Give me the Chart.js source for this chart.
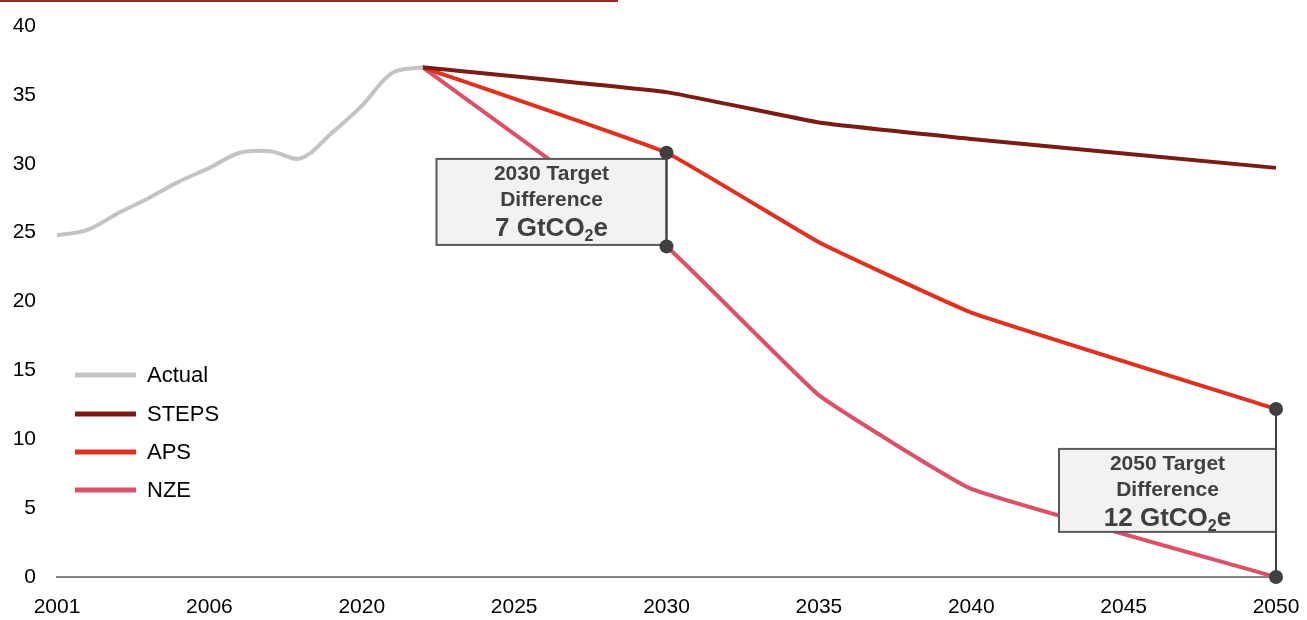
<!DOCTYPE html>
<html>
<head>
<meta charset="utf-8">
<script src="https://cdn.jsdelivr.net/npm/chart.js@4.4.1/dist/chart.umd.min.js"></script>
<style>
  html, body { margin: 0; padding: 0; background: #fff; }
  #wrap { position: relative; width: 1307px; height: 620px; }
  #topbar { position: absolute; left: 0; top: 0; width: 618px; height: 2px; background: #9a2a20; }
</style>
</head>
<body>
<div id="wrap">
  <canvas id="chart" width="1307" height="620"></canvas>
  <div id="topbar"></div>
</div>
<script>
// Emissions pathways (GtCO2e)

const years = ['2001','2002','2003','2004','2005','2006','2007','2008','2009','2010',
  '2020','2021','2022','2023','2024','2025','2026','2027','2028','2029',
  '2030','2031','2032','2033','2034','2035','2036','2037','2038','2039',
  '2040','2041','2042','2043','2044','2045','2046','2047','2048','2049','2050'];

const actualYears = ['2001','2002','2003','2004','2005','2006','2007','2008','2009','2010','2020','2021','2022'];
const actual = [24.8, 25.2, 26.4, 27.5, 28.7, 29.7, 30.8, 30.9, 30.4, 32.2, 34.2, 36.6, 37.0];

const projYears = ['2022','2030','2035','2040','2050'];
const steps = [37.0, 35.2, 33.0, 31.8, 29.7];
const aps = [37.0, 30.8, 24.3, 19.2, 12.2];
const nze = [37.0, 24.0, 13.2, 6.4, 0];

const FONT = '"Liberation Sans", Arial, sans-serif';

// put values on the full year axis, empty years stay null
function onAxis(ys, vals) {
  return years.map(y => {
    const i = ys.indexOf(y);
    return i < 0 ? null : vals[i];
  });
}

const series = [
  { label: 'Actual', data: onAxis(actualYears, actual), color: '#c3c3c3', tension: 0.35 },
  { label: 'STEPS', data: onAxis(projYears, steps), color: '#7b1b14', tension: 0.1 },
  { label: 'APS', data: onAxis(projYears, aps), color: '#e0301e', tension: 0.1 },
  { label: 'NZE', data: onAxis(projYears, nze), color: '#dc5068', tension: 0.1 }
];

const targets = [
  { year: '2030', hi: 'APS', lo: 'NZE', title: '2030 Target', value: '7 GtCO', width: 230, top: 30.35, height: 86 },
  { year: '2050', hi: 'APS', lo: 'NZE', title: '2050 Target', value: '12 GtCO', width: 217, top: 9.3, height: 83 }
];

const legendInside = {
  id: 'legendInside',
  afterDraw(chart) {
    const ctx = chart.ctx;
    const rows = [375, 414, 452, 490];
    ctx.save();
    chart.data.datasets.forEach((ds, i) => {
      ctx.strokeStyle = ds.borderColor;
      ctx.lineWidth = 5;
      ctx.beginPath();
      ctx.moveTo(75, rows[i]);
      ctx.lineTo(136, rows[i]);
      ctx.stroke();
      ctx.fillStyle = '#000';
      ctx.font = '22px ' + FONT;
      ctx.textBaseline = 'middle';
      ctx.textAlign = 'left';
      ctx.fillText(ds.label, 147, rows[i] + 1);
    });
    ctx.restore();
  }
};

const targetBoxes = {
  id: 'targetBoxes',
  afterDatasetsDraw(chart) {
    const ctx = chart.ctx;
    const xs = chart.scales.x, ys = chart.scales.y;
    const byLabel = l => chart.data.datasets.find(d => d.label === l);
    ctx.save();
    targets.forEach(t => {
      const idx = years.indexOf(t.year);
      const x = xs.getPixelForValue(idx);
      const yHi = ys.getPixelForValue(byLabel(t.hi).data[idx]);
      const yLo = ys.getPixelForValue(byLabel(t.lo).data[idx]);
      const top = ys.getPixelForValue(t.top);
      const left = x - t.width;

      // box
      ctx.fillStyle = '#f2f2f2';
      ctx.fillRect(left, top, t.width, t.height);
      ctx.strokeStyle = '#595959';
      ctx.lineWidth = 2;
      ctx.strokeRect(left, top, t.width, t.height);

      // text
      const cx = left + t.width / 2;
      ctx.fillStyle = '#404040';
      ctx.textBaseline = 'middle';
      ctx.textAlign = 'center';
      ctx.font = 'bold 21px ' + FONT;
      ctx.fillText(t.title, cx, top + 15);
      ctx.fillText('Difference', cx, top + 41);

      ctx.textAlign = 'left';
      const big = 'bold 26px ' + FONT, sub = 'bold 16px ' + FONT;
      ctx.font = big;
      const w1 = ctx.measureText(t.value).width;
      const w3 = ctx.measureText('e').width;
      ctx.font = sub;
      const w2 = ctx.measureText('2').width;
      let sx = cx - (w1 + w2 + w3) / 2;
      const ly = top + 70;
      ctx.font = big;
      ctx.fillText(t.value, sx, ly);
      ctx.font = sub;
      ctx.fillText('2', sx + w1, ly + 8);
      ctx.font = big;
      ctx.fillText('e', sx + w1 + w2, ly);

      // connector and dots
      ctx.strokeStyle = '#404040';
      ctx.lineWidth = 2;
      ctx.beginPath();
      ctx.moveTo(x, yHi);
      ctx.lineTo(x, yLo);
      ctx.stroke();
      ctx.fillStyle = '#404040';
      [yHi, yLo].forEach(y => {
        ctx.beginPath();
        ctx.arc(x, y, 7, 0, Math.PI * 2);
        ctx.fill();
      });
    });
    ctx.restore();
  }
};

new Chart(document.getElementById('chart'), {
  type: 'line',
  data: {
    labels: years,
    datasets: series.map(s => ({
      label: s.label,
      data: s.data,
      borderColor: s.color,
      backgroundColor: s.color,
      borderWidth: 4,
      pointRadius: 0,
      tension: s.tension,
      spanGaps: true,
      clip: false
    }))
  },
  options: {
    responsive: false,
    animation: false,
    layout: { padding: { top: 26, right: 31, bottom: 0, left: 0 } },
    plugins: { legend: { display: false }, tooltip: { enabled: false } },
    scales: {
      x: {
        offset: false,
        grid: { display: false, drawTicks: false },
        border: { display: true, color: '#878787', width: 2 },
        afterFit: s => { s.height = 43; s.paddingLeft = 0; s.paddingRight = 0; },
        ticks: {
          autoSkip: false,
          maxRotation: 0,
          padding: 18,
          color: '#000',
          font: { family: FONT, size: 21 },
          callback: (v, i) => (i % 5 === 0 ? years[i] : '')
        }
      },
      y: {
        min: 0,
        max: 40,
        grid: { display: false, drawTicks: false },
        border: { display: false },
        afterFit: s => { s.width = 57; s.paddingTop = 0; s.paddingBottom = 0; },
        ticks: {
          stepSize: 5,
          padding: 21,
          color: '#000',
          font: { family: FONT, size: 21 }
        }
      }
    }
  },
  plugins: [legendInside, targetBoxes]
});
</script>
</body>
</html>
